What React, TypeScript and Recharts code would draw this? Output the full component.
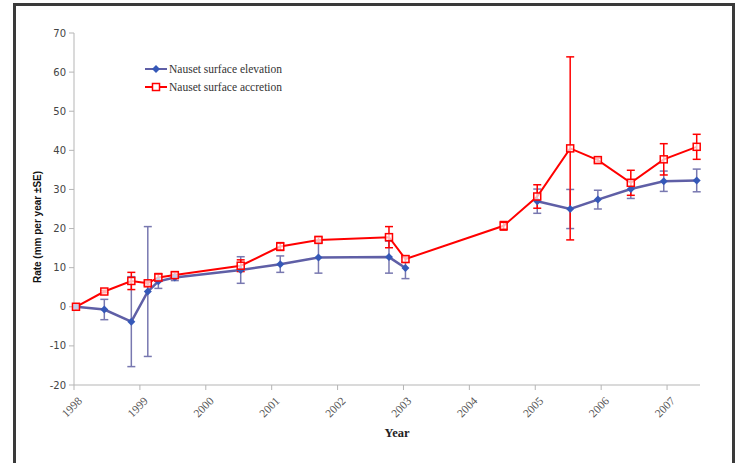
import React from "react";
import { ComposedChart, Line, XAxis, YAxis, ErrorBar, Legend } from "recharts";

// sampling dates (decimal years) shared by both series
const sampleYears = [
  1998.03, 1998.46, 1998.87, 1999.12, 1999.28, 1999.53, 2000.53, 2001.13, 2001.71,
  2002.78, 2003.03, 2004.52, 2005.03, 2005.53, 2005.95, 2006.45, 2006.95, 2007.45,
];
const elevation = [
  0, -0.7, -3.8, 3.9, 6.5, 7.5, 9.4, 10.9, 12.6, 12.7, 9.9, null, 27.0, 25.0, 27.4, 30.1,
  32.1, 32.3,
];
const elevationSE = [
  0.3, 2.6, 11.5, 16.6, 1.8, 0.8, 3.4, 2.1, 4.0, 4.1, 2.7, null, 3.1, 5.0, 2.4, 2.4, 2.6,
  2.9,
];
const accretion = [
  0, 3.9, 6.6, 6.0, 7.5, 8.1, 10.5, 15.4, 17.1, 17.8, 12.2, 20.7, 28.2, 40.5, 37.5, 31.7,
  37.7, 40.9,
];
const accretionSE = [
  0.5, 0.3, 2.2, 0.5, 1.0, 0.7, 1.5, 1.0, 0.7, 2.7, 0.8, 1.1, 3.0, 23.4, 0.5, 3.2, 4.0,
  3.2,
];
const yearTicks = [1998, 1999, 2000, 2001, 2002, 2003, 2004, 2005, 2006, 2007];
const rateTicks = [-20, -10, 0, 10, 20, 30, 40, 50, 60, 70];
const seriesOrder = ["elevation", "accretion"];

const data = sampleYears.map((year, i) => ({
  year,
  elevation: elevation[i],
  elevationSE: elevationSE[i],
  accretion: accretion[i],
  accretionSE: accretionSE[i],
}));

const BLUE_LINE = "#5f5fa6";
const BLUE_DOT = "#3558b8";
const BLUE_ERR = "#7878b0";
const RED = "#ff0000";

const DiamondDot = (p: any) => {
  const { cx, cy, value, index } = p;
  if (cx == null || cy == null || value == null) return <g key={index} />;
  const r = 4;
  return (
    <polygon
      key={index}
      points={`${cx},${cy - r} ${cx + r},${cy} ${cx},${cy + r} ${cx - r},${cy}`}
      fill={BLUE_DOT}
    />
  );
};

const SquareDot = (p: any) => {
  const { cx, cy, value, index } = p;
  if (cx == null || cy == null || value == null) return <g key={index} />;
  return (
    <rect
      key={index}
      x={cx - 3.5}
      y={cy - 3.5}
      width={7}
      height={7}
      fill="#fff"
      fillOpacity={0.7}
      stroke={RED}
      strokeWidth={1.5}
    />
  );
};

const YearTick = ({ x, y, payload }: any) => (
  <g transform={`translate(${x + 3},${y + 4})`}>
    <text
      transform="rotate(-45)"
      textAnchor="end"
      dy="0.7em"
      fontFamily="Liberation Serif"
      fontSize={11.5}
      fill="#555"
    >
      {payload.value}
    </text>
  </g>
);

const LegendBox = ({ payload }: any) => {
  const items = [...(payload || [])].sort(
    (a: any, b: any) => seriesOrder.indexOf(a.dataKey) - seriesOrder.indexOf(b.dataKey)
  );
  return (
    <div style={{ fontFamily: "Liberation Serif", fontSize: 11.5, color: "#333" }}>
      {items.map((entry: any) => (
        <div key={entry.dataKey} style={{ display: "flex", alignItems: "center", height: 18 }}>
          <svg width={22} height={12} style={{ marginRight: 2 }}>
            <line x1={0} y1={6} x2={22} y2={6} stroke={entry.color} strokeWidth={2} />
            {entry.dataKey === "elevation" ? (
              <polygon points="11,2 15,6 11,10 7,6" fill={BLUE_DOT} />
            ) : (
              <rect x={7.5} y={2.5} width={7} height={7} fill="#fff" stroke={RED} strokeWidth={1.5} />
            )}
          </svg>
          <span>{entry.value}</span>
        </div>
      ))}
    </div>
  );
};

export default function App() {
  return (
    <div style={{ position: "absolute", left: 0, top: 0, width: 736, height: 463, background: "#fff", overflow: "hidden" }}>
      <div
        style={{
          position: "absolute",
          left: 13,
          top: 3,
          width: 716,
          height: 480,
          border: "3px solid #3a3a3a",
          borderBottom: "none",
        }}
      />
      <ComposedChart
        width={736}
        height={463}
        data={data}
        margin={{ top: 33, right: 36, bottom: 28, left: 34 }}
        style={{ position: "absolute", left: 0, top: 0 }}
      >
        <XAxis
          dataKey="year"
          type="number"
          domain={[1998, 2007.5]}
          ticks={yearTicks}
          interval={0}
          height={50}
          tick={<YearTick />}
          tickSize={5}
          stroke="#b5b5b5"
        />
        <YAxis
          type="number"
          domain={[-20, 70]}
          ticks={rateTicks}
          interval={0}
          width={40}
          tickSize={5}
          tickMargin={3}
          stroke="#b5b5b5"
          tick={{ fontFamily: "DejaVu Sans", fontSize: 10, fill: "#444" }}
        />
        <Legend
          layout="vertical"
          verticalAlign="middle"
          align="center"
          content={<LegendBox />}
          wrapperStyle={{ left: 145, top: 60, width: 200 }}
        />
        <Line
          dataKey="elevation"
          name="Nauset surface elevation"
          stroke={BLUE_LINE}
          strokeWidth={2.5}
          dot={DiamondDot}
          activeDot={false}
          isAnimationActive={false}
        >
          <ErrorBar dataKey="elevationSE" direction="y" width={4} stroke={BLUE_ERR} strokeWidth={1.5} />
        </Line>
        <Line
          dataKey="accretion"
          name="Nauset surface accretion"
          stroke={RED}
          strokeWidth={2}
          dot={SquareDot}
          activeDot={false}
          isAnimationActive={false}
        >
          <ErrorBar dataKey="accretionSE" direction="y" width={4} stroke={RED} strokeWidth={1.5} />
        </Line>
      </ComposedChart>
      <svg width={736} height={463} style={{ position: "absolute", left: 0, top: 0, pointerEvents: "none" }}>
        <text
          transform="translate(37,227) rotate(-90)"
          textAnchor="middle"
          dominantBaseline="central"
          fontFamily="Liberation Sans"
          fontWeight="bold"
          fontSize={10}
          fill="#111"
        >
          Rate (mm per year ±SE)
        </text>
        <text x={397} y={437} textAnchor="middle" fontFamily="Liberation Serif" fontWeight="bold" fontSize={12.5} fill="#222">
          Year
        </text>
      </svg>
    </div>
  );
}
